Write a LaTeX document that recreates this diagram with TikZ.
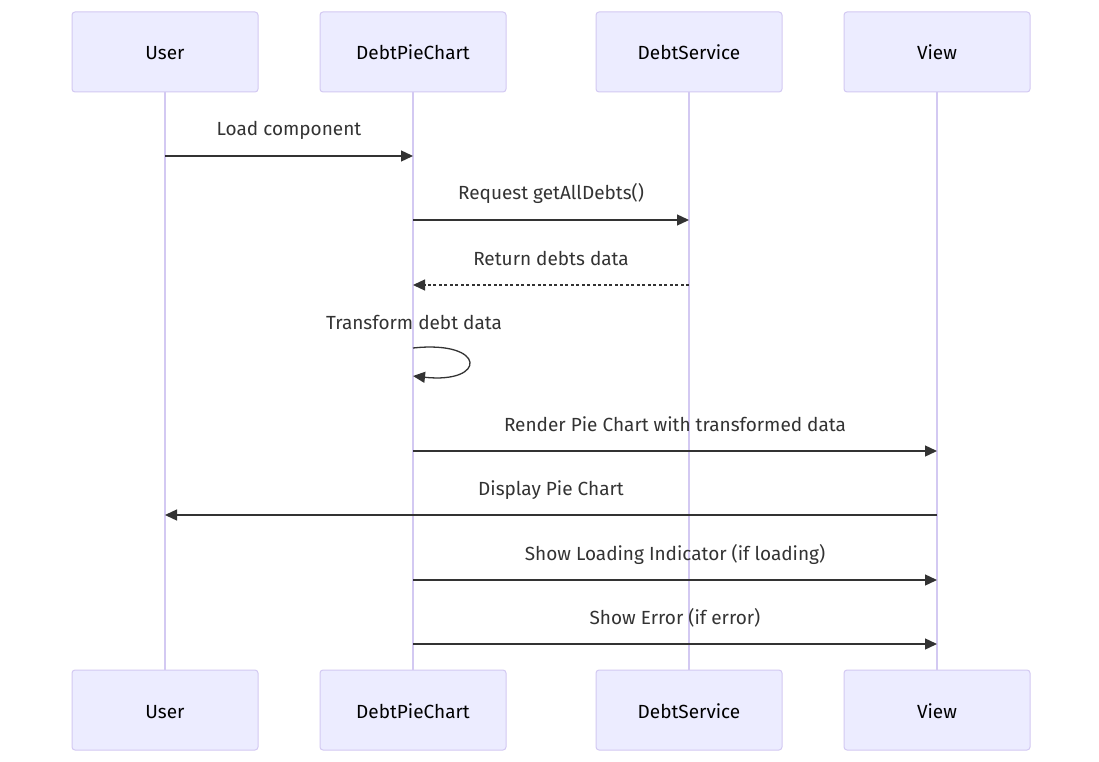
\documentclass[tikz,border=0pt]{standalone}
\usepackage{fontspec}
\setmainfont{Fira Sans}
\usetikzlibrary{positioning}
\usetikzlibrary{arrows.meta}
\definecolor{actorfill}{HTML}{ECECFF}
\definecolor{actorline}{HTML}{D3C9F2}
\definecolor{msgline}{HTML}{333333}
\tikzset{
 actor/.style={draw=actorline,line width=1pt,fill=actorfill,rounded corners=3pt,minimum width=186pt,minimum height=80pt,text height=20pt,text depth=4pt,font=\fontsize{19}{22}\selectfont,text=black},
 msg/.style={draw=msgline,line width=1.3pt,-{Triangle[length=12pt,width=11pt]}},
 lbl/.style={font=\fontsize{19}{22}\selectfont,text=msgline,text height=14pt,text depth=4pt}
}

\begin{document}
\begin{tikzpicture}[x=1pt,y=-1pt]
 \useasboundingbox[fill=white](0,0) rectangle (1099,762);
 % lifelines
 \draw[actorline,line width=1.6pt](165,92)--(165,670);
 \draw[actorline,line width=1.6pt](413,92)--(413,670);
 \draw[actorline,line width=1.6pt](689,92)--(689,670);
 \draw[actorline,line width=1.6pt](937,92)--(937,670);
 % actors
 \node[actor](userT) at (165,52) {User};
 \node[actor](chartT) at (413,52) {DebtPieChart};
 \node[actor](serviceT) at (689,52) {DebtService};
 \node[actor](viewT) at (937,52) {View};
 \node[actor](userB) at (165,710) {User};
 \node[actor](chartB) at (413,710) {DebtPieChart};
 \node[actor](serviceB) at (689,710) {DebtService};
 \node[actor](viewB) at (937,710) {View};
 % message points
 \coordinate (u1) at (165,156); \coordinate (c1) at (413,156);
 \coordinate (c2) at (413,220); \coordinate (s2) at (689,220);
 \coordinate (s3) at (689,285); \coordinate (c3) at (413,285);
 \coordinate (c4a) at (413,348); \coordinate (c4b) at (413,376);
 \coordinate (c5) at (413,451); \coordinate (v5) at (937,451);
 \coordinate (v6) at (937,515); \coordinate (u6) at (165,515);
 \coordinate (c7) at (413,580); \coordinate (v7) at (937,580);
 \coordinate (c8) at (413,644); \coordinate (v8) at (937,644);
 % messages
 \draw[msg](u1)--(c1) node[lbl,midway,yshift=25pt](m1){Load component};
 \draw[msg](c2)--(s2) node[lbl,midway,yshift=25pt](m2){Request getAllDebts()};
 \draw[msg,dash pattern=on 3pt off 2.5pt](s3)--(c3) node[lbl,midway,yshift=25pt](m3){Return debts data};
 \draw[msg](c4a) .. controls (487,340) and (487,384) .. (c4b);
 \node[lbl](m4) at (414,324) {Transform debt data};
 \draw[msg](c5)--(v5) node[lbl,midway,yshift=25pt](m5){Render Pie Chart with transformed data};
 \draw[msg](v6)--(u6) node[lbl,midway,yshift=25pt](m6){Display Pie Chart};
 \draw[msg](c7)--(v7) node[lbl,midway,yshift=25pt](m7){Show Loading Indicator (if loading)};
 \draw[msg](c8)--(v8) node[lbl,midway,yshift=25pt](m8){Show Error (if error)};
\end{tikzpicture}
\end{document}
